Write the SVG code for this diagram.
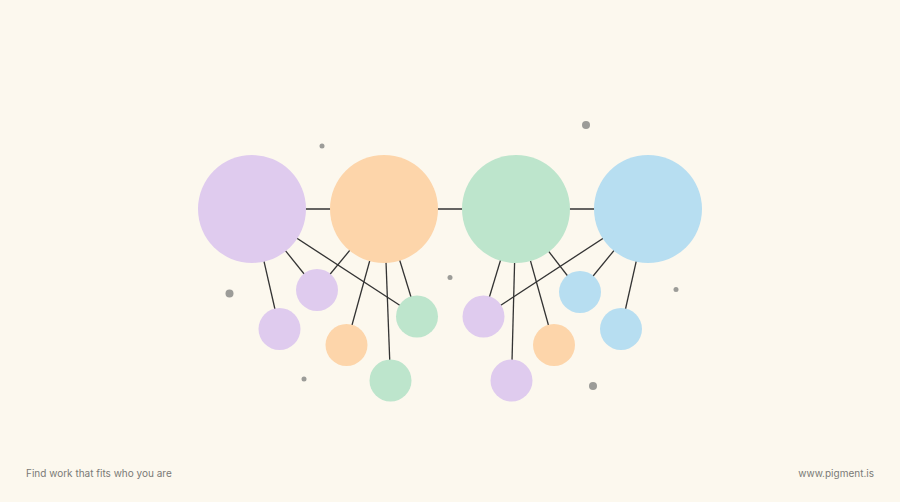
<svg xmlns="http://www.w3.org/2000/svg" width="900" height="502" viewBox="0 0 900 502">
<style>
.edge{stroke:#333;stroke-width:1.3;fill:none}
.p{fill:#DFCBEE}.o{fill:#FDD5AA}.g{fill:#BDE5CC}.b{fill:#B7DEF1}
.dot{fill:#9c9c98}
.cap{font-family:Inter,"Liberation Sans",sans-serif;font-size:10px;fill:#7a7a76}
</style>
<rect width="900" height="502" fill="#FCF8EE"/>
<g id="dots">
<circle class="dot" cx="322" cy="146" r="2.5"/>
<circle class="dot" cx="229.5" cy="293.5" r="4"/>
<circle class="dot" cx="304" cy="379" r="2.5"/>
<circle class="dot" cx="450" cy="277.5" r="2.5"/>
<circle class="dot" cx="586" cy="125" r="4"/>
<circle class="dot" cx="676" cy="289.5" r="2.5"/>
<circle class="dot" cx="593" cy="386" r="4"/>
</g>
<g id="connectors">
<line class="edge" x1="252" y1="209" x2="384" y2="209"/>
<line class="edge" x1="384" y1="209" x2="516" y2="209"/>
<line class="edge" x1="516" y1="209" x2="648" y2="209"/>
<line class="edge" x1="252" y1="209" x2="279.5" y2="329"/>
<line class="edge" x1="252" y1="209" x2="317" y2="290"/>
<line class="edge" x1="252" y1="209" x2="417" y2="316.5"/>
<line class="edge" x1="384" y1="209" x2="317" y2="290"/>
<line class="edge" x1="384" y1="209" x2="346.5" y2="345"/>
<line class="edge" x1="384" y1="209" x2="390.5" y2="380.5"/>
<line class="edge" x1="384" y1="209" x2="417" y2="316.5"/>
<line class="edge" x1="516" y1="209" x2="483.5" y2="316.5"/>
<line class="edge" x1="516" y1="209" x2="511.5" y2="380.5"/>
<line class="edge" x1="516" y1="209" x2="554" y2="345"/>
<line class="edge" x1="516" y1="209" x2="580" y2="292"/>
<line class="edge" x1="648" y1="209" x2="483.5" y2="316.5"/>
<line class="edge" x1="648" y1="209" x2="580" y2="292"/>
<line class="edge" x1="648" y1="209" x2="621" y2="329"/>
</g>
<g id="n-purple-big"><circle class="p" cx="252" cy="209" r="54"/></g>
<g id="n-orange-big"><circle class="o" cx="384" cy="209" r="54"/></g>
<g id="n-green-big"><circle class="g" cx="516" cy="209" r="54"/></g>
<g id="n-blue-big"><circle class="b" cx="648" cy="209" r="54"/></g>
<g id="n-purple-s1"><circle class="p" cx="317" cy="290" r="21"/></g>
<g id="n-purple-s2"><circle class="p" cx="279.5" cy="329" r="21"/></g>
<g id="n-orange-s1"><circle class="o" cx="346.5" cy="345" r="21"/></g>
<g id="n-green-s1"><circle class="g" cx="417" cy="316.5" r="21"/></g>
<g id="n-green-s2"><circle class="g" cx="390.5" cy="380.5" r="21"/></g>
<g id="n-purple-s3"><circle class="p" cx="483.5" cy="316.5" r="21"/></g>
<g id="n-purple-s4"><circle class="p" cx="511.5" cy="380.5" r="21"/></g>
<g id="n-orange-s2"><circle class="o" cx="554" cy="345" r="21"/></g>
<g id="n-blue-s1"><circle class="b" cx="580" cy="292" r="21"/></g>
<g id="n-blue-s2"><circle class="b" cx="621" cy="329" r="21"/></g>
<text class="cap" x="26" y="476.5">Find work that fits who you are</text>
<text class="cap" x="874" y="476.5" text-anchor="end">www.pigment.is</text>
</svg>
